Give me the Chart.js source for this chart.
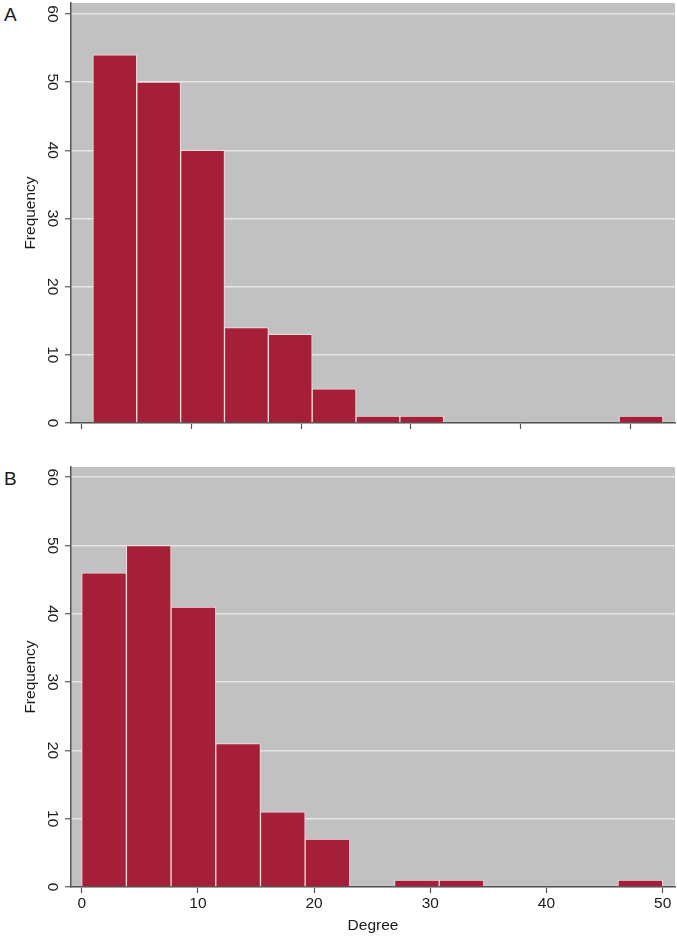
<!DOCTYPE html>
<html>
<head>
<meta charset="utf-8">
<script src="https://cdn.jsdelivr.net/npm/chart.js@4"></script>
<style>
    body { margin: 0; background: #fff; }
    #wrap { position: relative; width: 677px; height: 938px; }
    canvas { position: absolute; left: 0; }
    .painel { position: absolute; left: 4px; font: 19px 'Liberation Sans', Arial, sans-serif; color: #1a1a1a; }
</style>
</head>
<body>
<div id="wrap">
    <div class="painel" style="top:4px">A</div>
    <div class="painel" style="top:468px">B</div>
    <canvas id="grafico-a" width="677" height="440" style="top:0"></canvas>
    <canvas id="grafico-b" width="677" height="498" style="top:440px"></canvas>
</div>
<script>
// Histograma A: classes de largura 4 começando em 1
const inicioA = 1;
const larguraA = 4;
const frequenciaA = [54, 50, 40, 14, 13, 5, 1, 1, 0, 0, 0, 0, 1];

// Histograma B: 13 classes entre 0 e 50
const inicioB = 0;
const larguraB = 50 / 13;
const frequenciaB = [46, 50, 41, 21, 11, 7, 0, 1, 1, 0, 0, 0, 1];

const ticksX = [0, 10, 20, 30, 40, 50];
const ticksY = [0, 10, 20, 30, 40, 50, 60];

Chart.defaults.font.family = "'Liberation Sans', Arial, sans-serif";
Chart.defaults.color = '#1a1a1a';

// Fundo cinza da área do gráfico
const fundoCinza = {
    id: 'fundoCinza',
    beforeDraw(chart) {
        const a = chart.chartArea;
        const ctx = chart.ctx;
        ctx.save();
        ctx.fillStyle = '#c1c1c1';
        ctx.fillRect(a.left, a.top, a.right - a.left, a.bottom - a.top);
        ctx.restore();
    }
};

function montarDados(inicio, largura, freq) {
    return freq.map((f, i) => ({ x: inicio + largura * (i + 0.5), y: f }));
}

function criarHistograma(id, dados, opcoes) {
    const ctx = document.getElementById(id).getContext('2d');
    return new Chart(ctx, {
        type: 'bar',
        data: {
            datasets: [{
                data: dados,
                backgroundColor: '#a51f38',
                borderColor: '#f4dde0',
                borderWidth: 1,
                borderSkipped: 'bottom',
                barPercentage: 1,
                categoryPercentage: 1
            }]
        },
        options: {
            responsive: false,
            animation: false,
            layout: { padding: { top: opcoes.topo, right: 2, left: 0, bottom: 0 } },
            plugins: { legend: { display: false }, tooltip: { enabled: false } },
            scales: {
                x: {
                    type: 'linear',
                    min: opcoes.xMin,
                    max: opcoes.xMax,
                    offset: false,
                    afterBuildTicks: (s) => { s.ticks = ticksX.map(v => ({ value: v })); },
                    afterFit: (s) => {
                        s.height = opcoes.alturaX;
                        s.paddingLeft = 0;
                        s.paddingRight = 0;
                    },
                    grid: {
                        drawOnChartArea: false,
                        offset: false,
                        tickLength: 6,
                        tickColor: '#555',
                        tickWidth: 1.2
                    },
                    border: { color: '#555', width: 1.5 },
                    ticks: {
                        display: opcoes.rotulosX,
                        padding: 1,
                        maxRotation: 0,
                        font: { size: 15.5 }
                    },
                    title: {
                        display: opcoes.rotulosX,
                        text: 'Degree',
                        font: { size: 15.5 },
                        padding: { top: 3, bottom: 3 }
                    }
                },
                y: {
                    min: 0,
                    max: opcoes.yMax,
                    afterBuildTicks: (s) => { s.ticks = ticksY.map(v => ({ value: v })); },
                    afterFit: (s) => {
                        s.width = 71;
                        s.paddingTop = 0;
                        s.paddingBottom = 0;
                    },
                    grid: {
                        color: '#e6e6e6',
                        lineWidth: 1.5,
                        tickLength: 6,
                        tickColor: '#555',
                        tickWidth: 1.2
                    },
                    border: { color: '#555', width: 1.5 },
                    ticks: {
                        minRotation: -90,
                        maxRotation: -90,
                        crossAlign: 'center',
                        padding: 4,
                        font: { size: 15.5 }
                    },
                    title: {
                        display: true,
                        text: 'Frequency',
                        font: { size: 15.5 },
                        padding: { top: 21, bottom: 21 }
                    }
                }
            }
        },
        plugins: [fundoCinza]
    });
}

criarHistograma('grafico-a', montarDados(inicioA, larguraA, frequenciaA), {
    topo: 3, xMin: -1, xMax: 54.1, yMax: 61.6, alturaX: 17, rotulosX: false
});

criarHistograma('grafico-b', montarDados(inicioB, larguraB, frequenciaB), {
    topo: 27, xMin: -0.92, xMax: 51.06, yMax: 61.5, alturaX: 51, rotulosX: true
});
</script>
</body>
</html>
